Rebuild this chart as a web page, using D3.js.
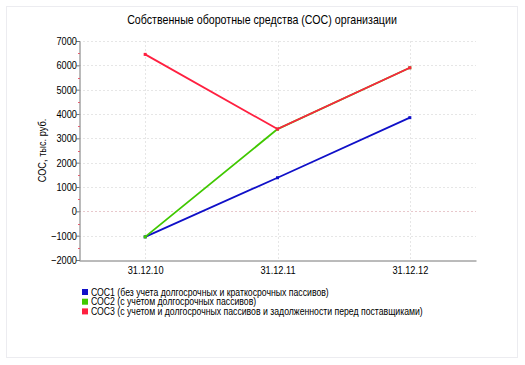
<!DOCTYPE html>
<html>
<head>
<meta charset="utf-8">
<script src="https://cdn.jsdelivr.net/npm/d3@7"></script>
<style>
  body { margin: 0; background: #fff; }
  svg { display: block; }
  text { font-family: "Liberation Sans Narrow", "Arial Narrow", "Liberation Sans", Arial, sans-serif; fill: #000; }
</style>
</head>
<body>
<svg id="chart" width="525" height="365"></svg>
<script>
const dates = ["31.12.10", "31.12.11", "31.12.12"];
const soc1 = [-1050, 1380, 3850];
const soc2 = [-1050, 3380, 5900];
const soc3 = [6450, 3380, 5900];
const seriesNames = [
    "СОС1 (без учета долгосрочных и краткосрочных пассивов)",
    "СОС2 (с учетом долгосрочных пассивов)",
    "СОС3 (с учетом и долгосрочных пассивов и задолженности перед поставщиками)"
];
const seriesColors = ["#1010c8", "#40c800", "#ff2040"];
const yTicks = [-2000, -1000, 0, 1000, 2000, 3000, 4000, 5000, 6000, 7000];

const svg = d3.select("#chart");
const plotLeft = 79, plotRight = 476, plotTop = 41, plotBottom = 260;
const squeeze = 0.84; // fake a narrow face

// outer frame
svg.append("rect")
    .attr("x", 6.5).attr("y", 6.5).attr("width", 511).attr("height", 351)
    .attr("fill", "none").attr("stroke", "#d8d8e0").attr("stroke-dasharray", "1,1");

svg.append("text")
    .attr("transform", `translate(262,24) scale(0.82,1)`)
    .attr("text-anchor", "middle")
    .style("font-size", "13px")
    .text("Собственные оборотные средства (СОС) организации");

const x = d3.scalePoint().domain(dates).range([plotLeft, plotRight]).padding(0.5);
const y = d3.scaleLinear().domain([-2000, 7000]).range([plotBottom, plotTop]);

// grid
svg.append("g").selectAll("line").data(yTicks.filter(d => d > -2000))
    .join("line")
    .attr("x1", plotLeft).attr("x2", plotRight)
    .attr("y1", d => Math.round(y(d)) + 0.5).attr("y2", d => Math.round(y(d)) + 0.5)
    .attr("stroke", d => d === 0 ? "#e8c8cc" : "#e6e6e6")
    .attr("stroke-dasharray", "2,2");
svg.append("g").selectAll("line").data(dates)
    .join("line")
    .attr("x1", d => Math.round(x(d)) + 0.5).attr("x2", d => Math.round(x(d)) + 0.5)
    .attr("y1", plotTop).attr("y2", plotBottom)
    .attr("stroke", "#e6e6e6")
    .attr("stroke-dasharray", "2,2");

// y axis
const yAxis = svg.append("g")
    .attr("transform", `translate(${plotLeft + 0.5},0)`)
    .call(d3.axisLeft(y).tickValues(yTicks).tickSize(3).tickPadding(1).tickFormat(d3.format("d")));
yAxis.select(".domain").attr("stroke", "#777");
yAxis.selectAll(".tick line").attr("stroke", "#777");
yAxis.selectAll("text")
    .style("font-size", "11px")
    .attr("x", -3)
    .attr("transform", `scale(${squeeze},1)`);
// minor ticks
svg.append("g").selectAll("line").data(d3.range(-1500, 7000, 1000))
    .join("line")
    .attr("x1", plotLeft - 1).attr("x2", plotLeft + 1)
    .attr("y1", d => Math.round(y(d)) + 0.5).attr("y2", d => Math.round(y(d)) + 0.5)
    .attr("stroke", "#e06070");

// x axis
const xAxis = svg.append("g")
    .attr("transform", `translate(0,${plotBottom + 0.5})`)
    .call(d3.axisBottom(x).tickSize(0).tickPadding(6));
xAxis.select(".domain").attr("stroke", "#777");
xAxis.selectAll("text")
    .style("font-size", "11px")
    .attr("transform", `scale(${squeeze},1)`);

svg.append("text")
    .attr("transform", `translate(46,${(plotTop + plotBottom) / 2}) rotate(-90) scale(${squeeze},1)`)
    .attr("text-anchor", "middle")
    .style("font-size", "11px")
    .text("СОС, тыс. руб.");

// lines
const allSeries = [soc1, soc2, soc3];
const line = d3.line().x((d, i) => x(dates[i])).y(d => y(d));
allSeries.forEach((vals, s) => {
    svg.append("path").datum(vals)
        .attr("d", line)
        .attr("fill", "none")
        .attr("stroke", seriesColors[s])
        .attr("stroke-width", 1.8);
    svg.append("g").selectAll("rect").data(vals)
        .join("rect")
        .attr("x", (d, i) => x(dates[i]) - 1.5).attr("y", d => y(d) - 1.5)
        .attr("width", 3).attr("height", 3)
        .attr("fill", seriesColors[s]);
});

// legend
const legend = svg.append("g").selectAll("g").data(seriesNames)
    .join("g")
    .attr("transform", (d, i) => `translate(82,${289 + i * 9.7})`);
legend.append("rect")
    .attr("width", 6).attr("height", 6)
    .attr("fill", (d, i) => seriesColors[i]);
legend.append("text")
    .attr("transform", `translate(9,6.5) scale(0.87,1)`)
    .style("font-size", "10px")
    .text(d => d);
</script>
</body>
</html>
